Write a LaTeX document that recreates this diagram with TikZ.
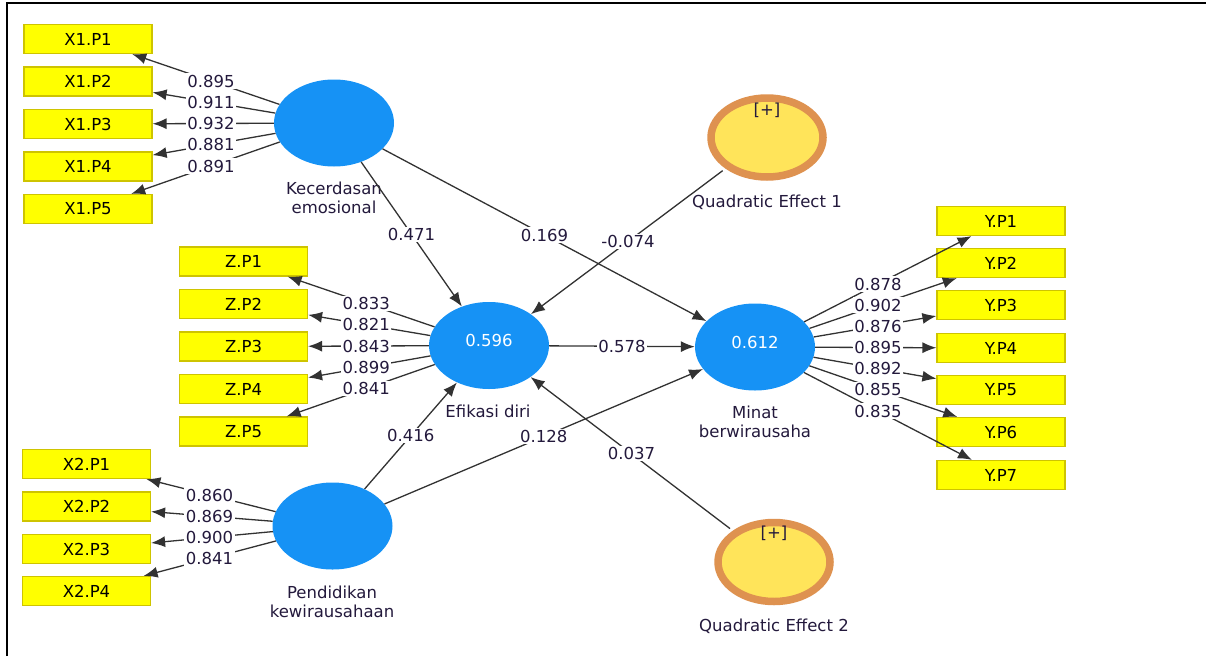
\documentclass[tikz,border=0pt]{standalone}
\usepackage{fontspec}
\setmainfont{DejaVu Sans}
\usetikzlibrary{arrows.meta,calc,shapes.geometric}
\definecolor{latblue}{RGB}{22,146,245}
\definecolor{boxyel}{RGB}{255,255,0}
\definecolor{boxedge}{RGB}{206,196,0}
\definecolor{txtc}{RGB}{35,25,60}
\definecolor{ringor}{RGB}{222,146,80}
\definecolor{qfill}{RGB}{255,228,90}
\definecolor{linec}{RGB}{50,50,50}
\begin{document}
\begin{tikzpicture}[x=1pt,y=-1pt,
  font=\fontsize{16.5}{19}\selectfont,
  ind/.style={draw=boxedge, fill=boxyel, line width=1.2pt, minimum width=128pt, minimum height=29pt, inner sep=0pt, text=black},
  lat/.style={ellipse, fill=latblue, draw=none, minimum width=120pt, minimum height=87pt, inner sep=0pt},
  quad/.style={ellipse, fill=qfill, draw=ringor, line width=7.5pt, minimum width=112pt, minimum height=79pt, inner sep=0pt},
  lab/.style={text=txtc, align=center, inner sep=0pt},
  val/.style={text=white, inner sep=0pt},
  wt/.style={fill=white, text=txtc, inner sep=1.5pt},
  conn/.style={draw=linec, line width=1.3pt, -{Latex[length=14pt,width=11pt]}},
]
\useasboundingbox (0,0) rectangle (1206,656);
\draw[line width=2pt] (7,656) -- (7,3) -- (1206,3);

% latent variables
\node[lat] (k) at (334,123) {};
\node[lat] (e) at (489,345.5) {};
\node[lat] (p) at (332.5,526) {};
\node[lat] (m) at (755,347) {};
\node[quad] (q1) at (767,137.5) {};
\node[quad] (q2) at (774,562) {};

\node[val] (ev) at (489,340) {0.596};
\node[val] (mv) at (755,342) {0.612};
\node[lab] (q1p) at (767,110) {[+]};
\node[lab] (q2p) at (774,533) {[+]};

\node[lab] (kl) at (334,197.5) {Kecerdasan\\emosional};
\node[lab] (el) at (488,411) {Efikasi diri};
\node[lab] (ml) at (755,421.5) {Minat\\berwirausaha};
\node[lab] (pl) at (332,601.5) {Pendidikan\\kewirausahaan};
\node[lab] (q1l) at (767,202) {Quadratic Effect 1};
\node[lab] (q2l) at (774,626) {Quadratic Effect 2};

% indicators
\node[ind] (x11) at (88,39) {X1.P1};
\node[ind] (x12) at (88,81.5) {X1.P2};
\node[ind] (x13) at (88,124) {X1.P3};
\node[ind] (x14) at (88,166.5) {X1.P4};
\node[ind] (x15) at (88,209) {X1.P5};

\node[ind] (z1) at (243.5,261.5) {Z.P1};
\node[ind] (z2) at (243.5,304) {Z.P2};
\node[ind] (z3) at (243.5,346.5) {Z.P3};
\node[ind] (z4) at (243.5,389) {Z.P4};
\node[ind] (z5) at (243.5,431.5) {Z.P5};

\node[ind] (x21) at (86.5,464) {X2.P1};
\node[ind] (x22) at (86.5,506.5) {X2.P2};
\node[ind] (x23) at (86.5,549) {X2.P3};
\node[ind] (x24) at (86.5,591) {X2.P4};

\node[ind] (y1) at (1001,221) {Y.P1};
\node[ind] (y2) at (1001,263) {Y.P2};
\node[ind] (y3) at (1001,305) {Y.P3};
\node[ind] (y4) at (1001,348) {Y.P4};
\node[ind] (y5) at (1001,390) {Y.P5};
\node[ind] (y6) at (1001,432) {Y.P6};
\node[ind] (y7) at (1001,475) {Y.P7};

% outer loadings
\foreach \t in {x11,x12,x13,x14,x15}{ \draw[conn] (k) -- (\t); }
\foreach \t in {z1,z2,z3,z4,z5}{ \draw[conn] (e) -- (\t); }
\foreach \t in {x21,x22,x23,x24}{ \draw[conn] (p) -- (\t); }
\foreach \t in {y1,y2,y3,y4,y5,y6,y7}{ \draw[conn] (m) -- (\t); }
% structural paths
\draw[conn] (k) -- (e);
\draw[conn] (k) -- (m);
\draw[conn] (p) -- (e);
\draw[conn] (p) -- (m);
\draw[conn] (e) -- (m);
\draw[conn, shorten <=3.5pt] (q1) -- (e);
\draw[conn, shorten <=3.5pt] (q2) -- (e);

% labels
\foreach \t/\v in {x11/0.895,x12/0.911,x13/0.932,x14/0.881,x15/0.891}{
  \node[wt] at ($(k)!0.5!(\t)$) {\v};
}
\foreach \t/\v in {z1/0.833,z2/0.821,z3/0.843,z4/0.899,z5/0.841}{
  \node[wt] at ($(e)!0.5!(\t)$) {\v};
}
\foreach \t/\v in {x21/0.860,x22/0.869,x23/0.900,x24/0.841}{
  \node[wt] at ($(p)!0.5!(\t)$) {\v};
}
\foreach \t/\v in {y1/0.878,y2/0.902,y3/0.876,y4/0.895,y5/0.892,y6/0.855,y7/0.835}{
  \node[wt] at ($(m)!0.5!(\t)$) {\v};
}
\node[wt] at ($(k)!0.5!(e)$) {0.471};
\node[wt] at ($(k)!0.5!(m)$) {0.169};
\node[wt] at ($(p)!0.5!(e)$) {0.416};
\node[wt] at ($(p)!0.5!(m)$) {0.128};
\node[wt] at ($(e)!0.5!(m)$) {0.578};
\node[wt] at ($(q1)!0.5!(e)$) {-0.074};
\node[wt] at ($(q2)!0.5!(e)$) {0.037};
\end{tikzpicture}
\end{document}
